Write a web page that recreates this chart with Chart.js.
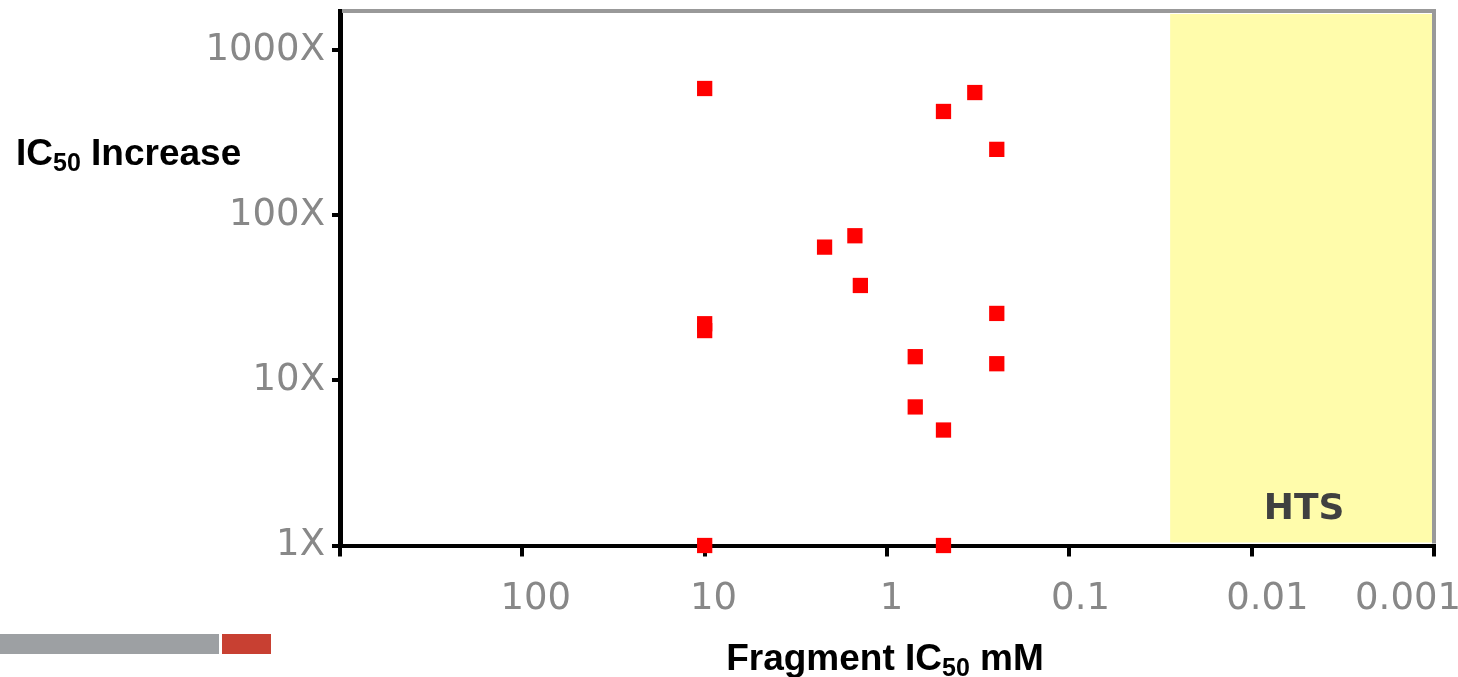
<!DOCTYPE html>
<html>
<head>
<meta charset="utf-8">
<script src="https://cdn.jsdelivr.net/npm/chart.js@4/dist/chart.umd.min.js"></script>
<style>
html,body{margin:0;padding:0;background:#fff;}
#wrap{position:relative;width:1458px;height:677px;}
canvas{display:block;}
</style>
</head>
<body>
<div id="wrap"><canvas id="c" width="1458" height="677"></canvas></div>
<script>
// ---- data ----
const fragmentIC50 = [10, 0.49, 0.33, 0.25, 1.5, 2.2, 1.4, 10, 10, 0.25, 0.7, 0.25, 0.7, 0.49, 10, 0.49];
const ic50Increase = [584, 424, 552, 250, 75, 64, 37.5, 22, 20, 25.4, 13.9, 12.6, 6.9, 5.0, 1, 1];
const xTickValues = [1000, 100, 10, 1, 0.1, 0.01, 0.001];
const xTickLabels = ['', '100', '10', '1', '0.1', '0.01', '0.001'];
const yTickValues = [1, 10, 100, 1000];
const yTickLabels = ['1X', '10X', '100X', '1000X'];
const htsBoundary = 0.028;
const htsLabel = 'HTS';
const xTitle = ['Fragment IC', '50', ' mM'];
const yTitle = ['IC', '50', ' Increase'];

const points = fragmentIC50.map((v, i) => ({x: v, y: ic50Increase[i]}));

function labelFor(values, labels, v) {
  const i = values.findIndex(t => Math.abs(Math.log10(t) - Math.log10(v)) < 1e-6);
  return i >= 0 ? labels[i] : '';
}

function drawSubText(ctx, parts, x, y, size, sub, align) {
  const f = s => 'bold ' + s + 'px "Liberation Sans", Arial, sans-serif';
  ctx.font = f(size);
  const w0 = ctx.measureText(parts[0]).width;
  const w2 = ctx.measureText(parts[2]).width;
  ctx.font = f(sub);
  const w1 = ctx.measureText(parts[1]).width;
  const total = w0 + w1 + w2;
  const sx = align === 'center' ? x - total / 2 : x;
  ctx.textAlign = 'left';
  ctx.textBaseline = 'alphabetic';
  ctx.font = f(size);
  ctx.fillText(parts[0], sx, y);
  ctx.font = f(sub);
  ctx.fillText(parts[1], sx + w0, y + 6);
  ctx.font = f(size);
  ctx.fillText(parts[2], sx + w0 + w1, y);
}

const decor = {
  id: 'decor',
  beforeDraw(chart) {
    // nudge x tick labels the way the reference sets them (slightly right of the tick, last one kept at the edge)
    try {
      const s = chart.scales.x;
      const items = s.getLabelItems();
      const ctx = chart.ctx;
      ctx.save();
      items.forEach(it => {
        if (!it.label) return;
        ctx.font = it.font.string;
        const w = ctx.measureText(it.label).width;
        let cx = it.options.translation[0] + 0.19 * w;
        cx = Math.min(cx, chart.width + 3 - w / 2);
        it.options.translation[0] = cx;
      });
      ctx.restore();
    } catch (e) {}
  },
  beforeDatasetsDraw(chart) {
    const {ctx, chartArea: a, scales: {x}} = chart;
    const xl = x.getPixelForValue(htsBoundary);
    ctx.save();
    ctx.fillStyle = '#fffcab';
    ctx.fillRect(xl, a.top + 3, a.right - 2 - xl, a.bottom - a.top - 6);
    ctx.fillStyle = '#404040';
    ctx.font = 'bold 36px "DejaVu Sans", Verdana, sans-serif';
    ctx.textAlign = 'center';
    ctx.textBaseline = 'middle';
    ctx.fillText(htsLabel, (xl + a.right) / 2 + 2, a.bottom - 36);
    ctx.strokeStyle = '#999999';
    ctx.lineWidth = 4;
    ctx.beginPath();
    ctx.moveTo(a.left + 2, a.top);
    ctx.lineTo(a.right + 2, a.top);
    ctx.moveTo(a.right, a.top);
    ctx.lineTo(a.right, a.bottom - 2);
    ctx.stroke();
    ctx.restore();
  },
  afterDraw(chart) {
    const {ctx} = chart;
    ctx.save();
    ctx.fillStyle = '#000';
    drawSubText(ctx, yTitle, 16, 165, 37, 25, 'left');
    drawSubText(ctx, xTitle, 885, 670, 37, 25, 'center');
    ctx.fillStyle = '#9da0a3';
    ctx.fillRect(0, 634, 219, 20);
    ctx.fillStyle = '#c84032';
    ctx.fillRect(222, 634, 49, 20);
    ctx.restore();
  }
};

new Chart(document.getElementById('c'), {
  type: 'scatter',
  data: {
    datasets: [{
      data: points,
      pointStyle: 'rect',
      pointRadius: 10.8,
      pointHoverRadius: 10.8,
      borderWidth: 0,
      backgroundColor: '#ff0000',
      borderColor: '#ff0000',
      clip: false
    }]
  },
  options: {
    responsive: false,
    animation: false,
    events: [],
    layout: {padding: {top: 11, right: 24, left: 0, bottom: 0}},
    plugins: {legend: {display: false}, tooltip: {enabled: false}, title: {display: false}},
    scales: {
      x: {
        type: 'logarithmic',
        reverse: true,
        min: 0.001,
        max: 1000,
        afterBuildTicks(s) { s.ticks = xTickValues.map(v => ({value: v})); },
        afterFit(s) { s.height = 131.5; s.paddingLeft = 0; s.paddingRight = 0; },
        ticks: {
          autoSkip: false, maxRotation: 0, minRotation: 0, padding: 21,
          color: '#888888',
          font: {family: '"DejaVu Sans", Verdana, sans-serif', size: 37},
          callback: (v) => labelFor(xTickValues, xTickLabels, v)
        },
        grid: {drawOnChartArea: false, drawTicks: true, tickLength: 11, color: '#000', lineWidth: 4},
        border: {display: true, color: '#000', width: 4}
      },
      y: {
        type: 'logarithmic',
        min: 1,
        max: 1720,
        afterBuildTicks(s) { s.ticks = yTickValues.map(v => ({value: v})); },
        afterFit(s) { s.width = 340; s.paddingTop = 0; s.paddingBottom = 0; },
        ticks: {
          autoSkip: false, padding: 7,
          color: '#888888',
          font: {family: '"DejaVu Sans", Verdana, sans-serif', size: 37},
          callback: (v) => labelFor(yTickValues, yTickLabels, v)
        },
        grid: {drawOnChartArea: false, drawTicks: true, tickLength: 8, color: '#000', lineWidth: 4},
        border: {display: true, color: '#000', width: 5}
      }
    }
  },
  plugins: [decor]
});
</script>
</body>
</html>
